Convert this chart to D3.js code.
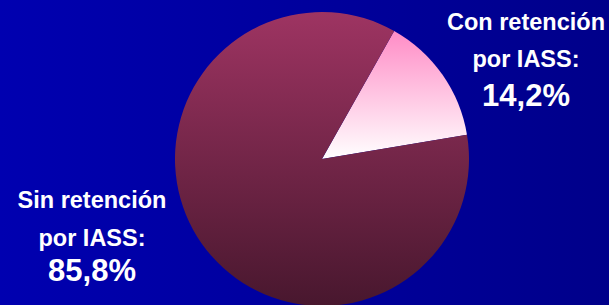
<!DOCTYPE html>
<html><head><meta charset="utf-8">
<script src="https://cdn.jsdelivr.net/npm/d3@7/dist/d3.min.js"></script>
<style>html,body{margin:0;padding:0;overflow:hidden}</style>
</head><body>
<svg id="c" width="609" height="305"></svg>
<script>
const categories = ["Con retención por IASS", "Sin retención por IASS"];
const values = [14.2, 85.8];
const labelLines = [["Con retención", "por IASS:"], ["Sin retención", "por IASS:"]];
const valueLabels = ["14,2%", "85,8%"];

const W = 609, H = 305;
const svg = d3.select("#c");
const defs = svg.append("defs");
const bg = defs.append("linearGradient").attr("id","bg").attr("x1","0").attr("x2","1").attr("y1","0").attr("y2","0");
bg.append("stop").attr("offset","0").attr("stop-color","#0000b0");
bg.append("stop").attr("offset","1").attr("stop-color","#00008a");
svg.append("rect").attr("width",W).attr("height",H).attr("fill","url(#bg)");

const gPink = defs.append("linearGradient").attr("id","gPink").attr("x1","0").attr("x2","0").attr("y1","0").attr("y2","1");
gPink.append("stop").attr("offset","0").attr("stop-color","#ff8cc6");
gPink.append("stop").attr("offset","1").attr("stop-color","#ffffff");
const gMar = defs.append("linearGradient").attr("id","gMar").attr("x1","0").attr("x2","0").attr("y1","0").attr("y2","1");
gMar.append("stop").attr("offset","0").attr("stop-color","#9e3462");
gMar.append("stop").attr("offset","1").attr("stop-color","#48172e");
const fills = ["url(#gPink)", "url(#gMar)"];

const cx = 322, cy = 159, r = 147;
const startA = 29.4 * Math.PI / 180;
const pie = d3.pie().sort(null).startAngle(startA).endAngle(startA + 2*Math.PI);
const arc = d3.arc().innerRadius(0).outerRadius(r);
const g = svg.append("g").attr("transform",`translate(${cx},${cy})`);
g.selectAll("path").data(pie(values)).join("path")
  .attr("d", arc).attr("fill", (d,i)=>fills[i]);

// labels
const labelX = [526, 92];
const baselines = [[30, 67, 106], [208, 246, 281]];
labelLines.forEach((lines, i) => {
  const t = svg.append("g").attr("font-family","Liberation Sans, Arial, sans-serif")
    .attr("font-weight","bold").attr("fill","#ffffff").attr("text-anchor","middle");
  lines.forEach((s, j) => {
    t.append("text").attr("x", labelX[i]).attr("y", baselines[i][j])
      .attr("font-size", 23.5).text(s);
  });
  t.append("text").attr("x", labelX[i]).attr("y", baselines[i][2])
    .attr("font-size", 31).text(valueLabels[i]);
});
</script>
</body></html>
